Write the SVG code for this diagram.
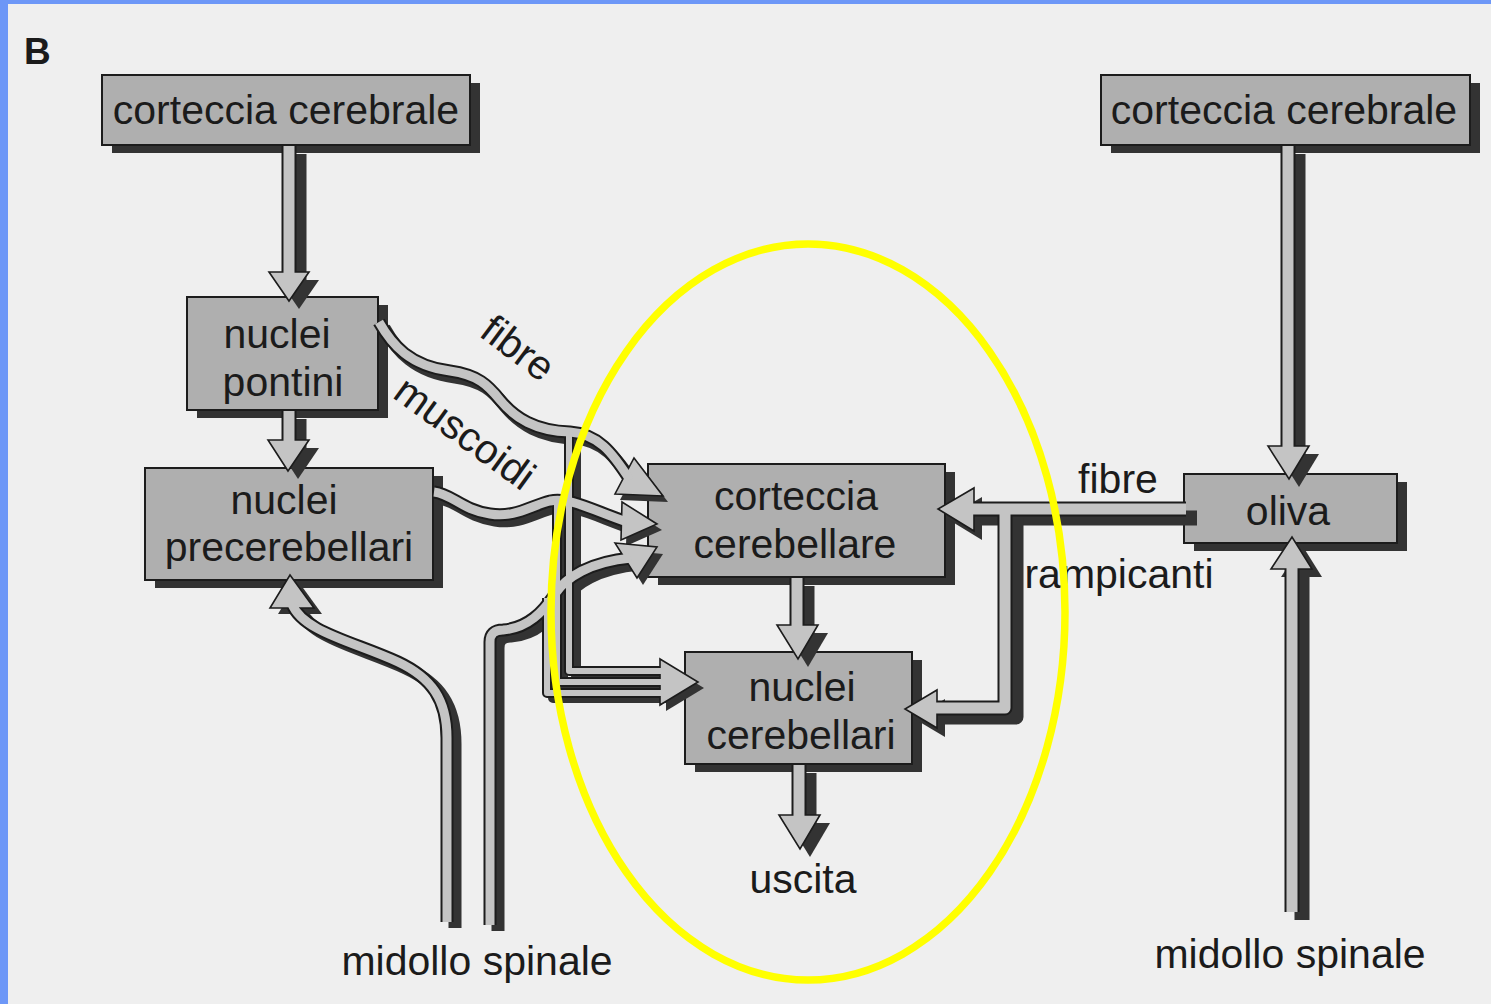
<svg xmlns="http://www.w3.org/2000/svg" width="1491" height="1004" viewBox="0 0 1491 1004">
  <style>
    .box { fill: #afafaf; stroke: #1c1c1c; stroke-width: 2; }
    .box-sh { fill: #333333; }
    .lbl { font-family: "Liberation Sans", Arial, sans-serif; font-size: 41px; fill: #1b1b1b; text-anchor: middle; }
    .sh { fill: none; stroke: #333333; stroke-linejoin: round; }
    .ol { fill: none; stroke: #1c1c1c; stroke-linejoin: round; }
    .in { fill: none; stroke: #c4c4c4; stroke-linejoin: round; }
    .w-thick.sh, .w-thick.ol { stroke-width: 15; }
    .w-thick.in { stroke-width: 11; }
    .w-thin.sh, .w-thin.ol { stroke-width: 13; }
    .w-thin.in { stroke-width: 9; }
    .w-bus.sh, .w-bus.ol { stroke-width: 10; }
    .w-bus.in { stroke-width: 6; }
    .head { fill: #c4c4c4; stroke: #1c1c1c; stroke-width: 1.6; stroke-linejoin: miter; }
    .head-sh { fill: #333333; }
  </style>
  <defs>
    <!-- thick straight shafts -->
    <path id="p-ccl-pont" d="M289 146 V277"/>
    <path id="p-pont-pre" d="M289 411 V445"/>
    <path id="p-cc-nc" d="M797 578 V630"/>
    <path id="p-nc-out" d="M799 765 V820"/>
    <path id="p-ccr-oliva" d="M1288 146 V451"/>
    <path id="p-spinr" d="M1292 912 V565"/>
    <path id="p-ramp" d="M1186 509 H968"/>
    <path id="p-ramp2" d="M1005 509 V708 H932"/>
    <!-- spinal tubes on the left -->
    <path id="p-spin1" d="M447 922 V738 C447 700 432 678 398 662 C355 642 303 632 292 604"/>
    <path id="p-spin2" d="M490 925 V642 Q490 630 503 630 C528 628 543 612 555 594 C566 577 590 562 631 558"/>
    <!-- mossy fibres -->
    <path id="p-musc" d="M379 322 C392 345 410 366 450 371 C478 375 488 385 500 400 C515 418 535 431 570 432 C598 434 612 452 630 480"/>
    <path id="p-pre" d="M434 492 C452 494 462 510 490 514 C515 518 530 506 550 501 C570 497 592 510 627 522"/>
    <!-- collateral bundle to the cerebellar nuclei -->
    <path id="p-busc" d="M547 598 V693 H666"/>
    <path id="p-busb" d="M557 503 V682 H666"/>
    <path id="p-busa" d="M569 430 V671 H666"/>
    <!-- arrow heads -->
    <polygon id="h-ccl-pont" points="269,272 309,272 289,301"/>
    <polygon id="h-pont-pre" points="268,440 309,440 288,471"/>
    <polygon id="h-spin1" points="270,608 314,608 290,575"/>
    <polygon id="h-spin2" points="615,543 657,547 637,578"/>
    <polygon id="h-musc" points="634,458 663,496 615,494"/>
    <polygon id="h-pre" points="622,502 657,524 621,540"/>
    <polygon id="h-bus" points="660,659 698,682 660,705"/>
    <polygon id="h-cc-nc" points="777,625 818,625 798,659"/>
    <polygon id="h-nc-out" points="779,815 820,815 800,849"/>
    <polygon id="h-ccr-oliva" points="1268,446 1309,446 1289,479"/>
    <polygon id="h-spinr" points="1271,569 1312,569 1292,537"/>
    <polygon id="h-ramp" points="974,488 974,531 938,509"/>
    <polygon id="h-ramp2" points="937,690 937,728 905,709"/>
  </defs>

  <!-- page -->
  <rect x="0" y="0" width="1491" height="1004" fill="#6d97f7"/>
  <rect x="8" y="4" width="1483" height="1000" fill="#efefef"/>

  <text x="24" y="64" font-family="'Liberation Sans', Arial, sans-serif" font-size="37" font-weight="bold" fill="#1b1b1b">B</text>

  <!-- nodes -->
  <g id="corteccia-cerebrale-sx">
    <rect class="box-sh" x="112" y="83" width="368" height="70"/>
    <rect class="box" x="102" y="75" width="368" height="70"/>
    <text class="lbl" x="286" y="124">corteccia cerebrale</text>
  </g>
  <g id="nuclei-pontini">
    <rect class="box-sh" x="197" y="305" width="191" height="113"/>
    <rect class="box" x="187" y="297" width="191" height="113"/>
    <text class="lbl" x="277" y="348">nuclei</text>
    <text class="lbl" x="283" y="396">pontini</text>
  </g>
  <g id="nuclei-precerebellari">
    <rect class="box-sh" x="155" y="476" width="288" height="112"/>
    <rect class="box" x="145" y="468" width="288" height="112"/>
    <text class="lbl" x="284" y="514">nuclei</text>
    <text class="lbl" x="289" y="561">precerebellari</text>
  </g>
  <g id="corteccia-cerebellare">
    <rect class="box-sh" x="658" y="472" width="297" height="113"/>
    <rect class="box" x="648" y="464" width="297" height="113"/>
    <text class="lbl" x="796" y="510">corteccia</text>
    <text class="lbl" x="795" y="558">cerebellare</text>
  </g>
  <g id="nuclei-cerebellari">
    <rect class="box-sh" x="695" y="660" width="227" height="112"/>
    <rect class="box" x="685" y="652" width="227" height="112"/>
    <text class="lbl" x="802" y="701">nuclei</text>
    <text class="lbl" x="801" y="749">cerebellari</text>
  </g>
  <g id="corteccia-cerebrale-dx">
    <rect class="box-sh" x="1111" y="83" width="369" height="70"/>
    <rect class="box" x="1101" y="75" width="369" height="70"/>
    <text class="lbl" x="1284" y="124">corteccia cerebrale</text>
  </g>
  <g id="oliva">
    <rect class="box-sh" x="1194" y="482" width="213" height="69"/>
    <rect class="box" x="1184" y="474" width="213" height="69"/>
    <text class="lbl" x="1288" y="525">oliva</text>
  </g>

  <!-- connectors -->
  <g id="connectors">
    <!-- drop shadows -->
    <g id="connector-shadows">
      <use href="#p-ccl-pont" class="sh w-thick" transform="translate(10,8)"/>
      <use href="#p-pont-pre" class="sh w-thick" transform="translate(10,8)"/>
      <use href="#p-cc-nc" class="sh w-thick" transform="translate(10,8)"/>
      <use href="#p-nc-out" class="sh w-thick" transform="translate(10,8)"/>
      <use href="#p-ccr-oliva" class="sh w-thick" transform="translate(10,8)"/>
      <use href="#p-spinr" class="sh w-thick" transform="translate(10,8)"/>
      <use href="#p-ramp" class="sh w-thick" transform="translate(11,9)"/>
      <use href="#p-ramp2" class="sh w-thick" transform="translate(11,9)"/>
      <use href="#p-spin1" class="sh w-thin" transform="translate(8,6)"/>
      <use href="#p-spin2" class="sh w-thin" transform="translate(8,6)"/>
      <use href="#p-musc" class="sh w-thin" transform="translate(5,6)"/>
      <use href="#p-pre" class="sh w-thin" transform="translate(5,6)"/>
      <use href="#p-busc" class="sh w-bus" transform="translate(6,5)"/>
      <use href="#p-busb" class="sh w-bus" transform="translate(6,5)"/>
      <use href="#p-busa" class="sh w-bus" transform="translate(7,5)"/>
      <use href="#h-ccl-pont" class="head-sh" transform="translate(10,8)"/>
      <use href="#h-pont-pre" class="head-sh" transform="translate(10,8)"/>
      <use href="#h-spin1" class="head-sh" transform="translate(8,6)"/>
      <use href="#h-spin2" class="head-sh" transform="translate(6,7)"/>
      <use href="#h-musc" class="head-sh" transform="translate(5,6)"/>
      <use href="#h-pre" class="head-sh" transform="translate(5,6)"/>
      <use href="#h-bus" class="head-sh" transform="translate(6,6)"/>
      <use href="#h-cc-nc" class="head-sh" transform="translate(10,8)"/>
      <use href="#h-nc-out" class="head-sh" transform="translate(10,8)"/>
      <use href="#h-ccr-oliva" class="head-sh" transform="translate(10,8)"/>
      <use href="#h-spinr" class="head-sh" transform="translate(10,8)"/>
      <use href="#h-ramp" class="head-sh" transform="translate(8,9)"/>
      <use href="#h-ramp2" class="head-sh" transform="translate(8,9)"/>
    </g>
    <!-- tube outlines -->
    <g id="connector-outlines">
      <use href="#p-ccl-pont" class="ol w-thick"/>
      <use href="#p-pont-pre" class="ol w-thick"/>
      <use href="#p-cc-nc" class="ol w-thick"/>
      <use href="#p-nc-out" class="ol w-thick"/>
      <use href="#p-ccr-oliva" class="ol w-thick"/>
      <use href="#p-spinr" class="ol w-thick"/>
      <use href="#p-ramp" class="ol w-thick"/>
      <use href="#p-ramp2" class="ol w-thick"/>
      <use href="#p-spin1" class="ol w-thin"/>
      <use href="#p-spin2" class="ol w-thin"/>
      <use href="#p-musc" class="ol w-thin"/>
      <use href="#p-pre" class="ol w-thin"/>
      <use href="#p-busc" class="ol w-bus"/>
      <use href="#p-busb" class="ol w-bus"/>
      <use href="#p-busa" class="ol w-bus"/>
    </g>
    <!-- arrow heads -->
    <g id="connector-heads">
      <use href="#h-ccl-pont" class="head"/>
      <use href="#h-pont-pre" class="head"/>
      <use href="#h-spin1" class="head"/>
      <use href="#h-spin2" class="head"/>
      <use href="#h-musc" class="head"/>
      <use href="#h-pre" class="head"/>
      <use href="#h-bus" class="head"/>
      <use href="#h-cc-nc" class="head"/>
      <use href="#h-nc-out" class="head"/>
      <use href="#h-ccr-oliva" class="head"/>
      <use href="#h-spinr" class="head"/>
      <use href="#h-ramp" class="head"/>
      <use href="#h-ramp2" class="head"/>
    </g>
    <!-- tube interiors -->
    <g id="connector-fills">
      <use href="#p-ccl-pont" class="in w-thick"/>
      <use href="#p-pont-pre" class="in w-thick"/>
      <use href="#p-cc-nc" class="in w-thick"/>
      <use href="#p-nc-out" class="in w-thick"/>
      <use href="#p-ccr-oliva" class="in w-thick"/>
      <use href="#p-spinr" class="in w-thick"/>
      <use href="#p-ramp" class="in w-thick"/>
      <use href="#p-ramp2" class="in w-thick"/>
      <use href="#p-spin1" class="in w-thin"/>
      <use href="#p-spin2" class="in w-thin"/>
      <use href="#p-musc" class="in w-thin"/>
      <use href="#p-pre" class="in w-thin"/>
      <use href="#p-busc" class="in w-bus"/>
      <use href="#p-busb" class="in w-bus"/>
      <use href="#p-busa" class="in w-bus"/>
    </g>
    <!-- connector labels -->
    <g id="connector-labels">
      <text class="lbl" transform="translate(518,348) rotate(37)" y="14">fibre</text>
      <text class="lbl" transform="translate(465,433) rotate(36)" y="14">muscoidi</text>
      <text class="lbl" x="1118" y="493">fibre</text>
      <text class="lbl" x="1119" y="588">rampicanti</text>
      <text class="lbl" x="803" y="893">uscita</text>
      <text class="lbl" x="477" y="975">midollo spinale</text>
      <text class="lbl" x="1290" y="968">midollo spinale</text>
    </g>
  </g>

  <!-- highlight ring round the cerebellar circuit -->
  <ellipse cx="808" cy="612" rx="257" ry="368" fill="none" stroke="#ffff00" stroke-width="7.5"/>
</svg>
